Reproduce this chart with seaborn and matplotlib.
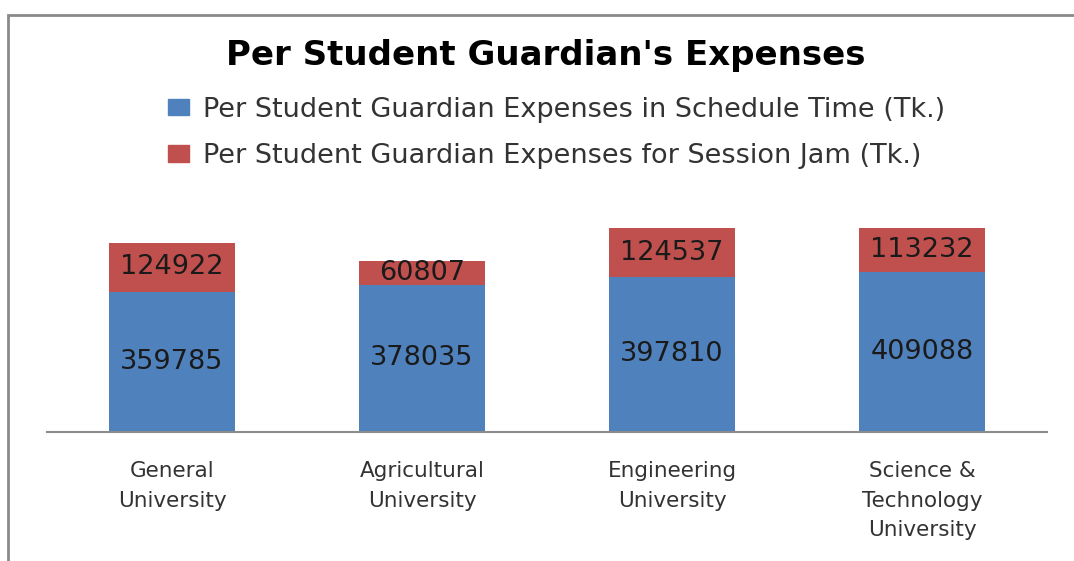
import matplotlib
matplotlib.use("Agg")
import matplotlib.pyplot as plt
import seaborn as sns
import pandas as pd
from matplotlib.patches import Rectangle, Patch

# data
universities = ["General\nUniversity", "Agricultural\nUniversity",
                "Engineering\nUniversity", "Science &\nTechnology\nUniversity"]
schedule_time = [359785, 378035, 397810, 409088]
session_jam = [124922, 60807, 124537, 113232]
series_names = ["Per Student Guardian Expenses in Schedule Time (Tk.)",
                "Per Student Guardian Expenses for Session Jam (Tk.)"]

df = pd.DataFrame({"university": universities,
                   "schedule": schedule_time,
                   "jam": session_jam})
df["total"] = df["schedule"] + df["jam"]

sns.set_style("white")
plt.rcParams["font.family"] = ["DejaVu Sans"]

blue = "#4f81bd"
red = "#c0504d"

fig = plt.figure(figsize=(10.74, 5.61), dpi=100)
ax = fig.add_axes([47 / 1074, 129 / 561, 1000 / 1074, 234 / 561])

# stacked bars: total in red, schedule time drawn over it in blue
sns.barplot(data=df, x="university", y="total", color=red, width=0.505,
            saturation=1, linewidth=0, ax=ax)
sns.barplot(data=df, x="university", y="schedule", color=blue, width=0.505,
            saturation=1, linewidth=0, ax=ax)

for i, row in df.iterrows():
    ax.text(i, row["schedule"] / 2, str(row["schedule"]), ha="center",
            va="center", fontsize=19.5, color="#1a1a1a")
    ax.text(i, row["schedule"] + row["jam"] / 2, str(row["jam"]), ha="center",
            va="center", fontsize=19.5, color="#1a1a1a")

ax.set_ylim(0, 600000)
ax.set_xlim(-0.5, 3.5)
ax.set_xlabel("")
ax.set_ylabel("")
ax.set_yticks([])
ax.tick_params(axis="x", length=0, pad=21, labelsize=15.5, labelcolor="#333333")
for lbl in ax.get_xticklabels():
    lbl.set_linespacing(1.6)
for s in ["left", "right", "top"]:
    ax.spines[s].set_visible(False)
ax.spines["bottom"].set_color("#8c8c8c")
ax.spines["bottom"].set_linewidth(1.5)
ax.set_facecolor("none")

fig.text(0.508, 1 - 55 / 561, "Per Student Guardian's Expenses", ha="center",
         va="center", fontsize=24.5, fontweight="bold", color="black")

handles = [Patch(color=blue), Patch(color=red)]
fig.legend(handles, series_names, loc="center", bbox_to_anchor=(0.518, 1 - 133 / 561),
           frameon=False, fontsize=19.5, labelcolor="#333333", handlelength=0.8,
           handleheight=0.55, handletextpad=0.5, labelspacing=0.75)

# chart frame
fig.patches.append(Rectangle((8 / 1074, -0.2), 1.2, 1.2 - 15 / 561,
                             transform=fig.transFigure, fill=False,
                             edgecolor="#8a8a8a", linewidth=2, zorder=0))

fig.savefig("out.png", dpi=100)
